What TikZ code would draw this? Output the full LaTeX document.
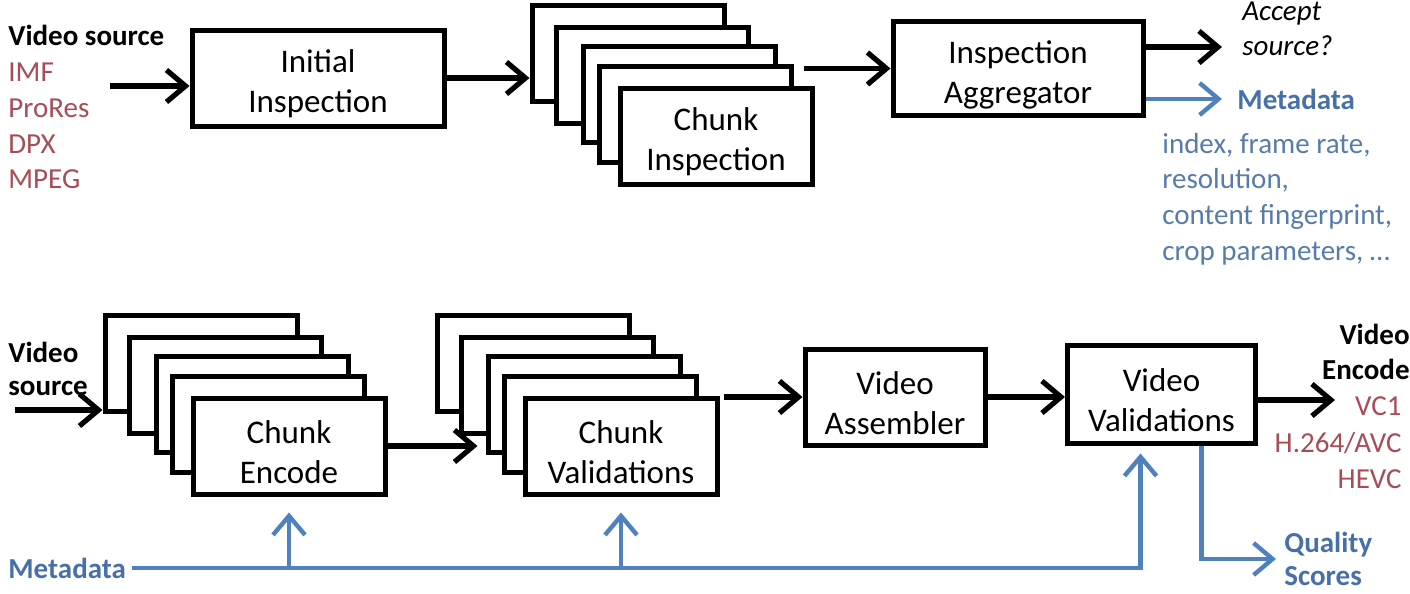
\documentclass[tikz,border=0pt]{standalone}
\usepackage{fontspec}
\setmainfont{Carlito}
\usetikzlibrary{arrows.meta}
\definecolor{fmtred}{RGB}{168,76,86}
\definecolor{metablue}{RGB}{79,129,189}
\definecolor{metatext}{RGB}{72,112,168}
\definecolor{listblue}{RGB}{88,124,170}

\begin{document}
\begin{tikzpicture}[x=0.5pt,y=-0.5pt,font=\fontsize{14.5}{17.8}\selectfont,
  box/.style={draw,line width=2.5pt,fill=white,align=center,
    font=\fontsize{16.5}{20}\selectfont,minimum height=48pt,text height=37.5pt},
  chunk/.style={box,minimum width=96pt},
  arr/.style={line width=2.6pt,-{Straight Barb[length=9.5pt,width=16pt]}},
  barr/.style={metablue,line width=2.2pt,-{Straight Barb[length=9.5pt,width=16pt]}},
  lbl/.style={inner sep=0pt,align=left}]
\useasboundingbox (0,0) rectangle (1410,594);
%
% Source formats
\node[lbl,anchor=west,font=\fontsize{14.5}{17.8}\selectfont\bfseries] (vsrc) at (8,35) {Video source};
\node[lbl,anchor=west,text=fmtred] (fmts) at (8,126) {IMF\\ProRes\\DPX\\MPEG};
\coordinate (vsrcin) at (110,86);
% Initial Inspection
\node[box,minimum width=126pt] (init) at (318,78) {Initial\\Inspection};
% Chunk Inspection
\node[chunk] (ci1) at (628,53) {};
\node[chunk] (ci2) at (652,75) {};
\node[chunk] (ci3) at (679,94) {};
\node[chunk] (ci4) at (695,114) {};
\node[chunk] (ci5) at (716,136) {Chunk\\Inspection};
% Inspection Aggregator
\node[box,minimum width=125pt,minimum height=47pt] (agg) at (1018,68.5) {Inspection\\Aggregator};
\node[lbl,anchor=west,font=\fontsize{14.5}{17.8}\selectfont\itshape] (acc) at (1242,29) {Accept\\source?};
\coordinate (acctip) at (1222,47);
\node[anchor=west,inner sep=0pt,inner xsep=7.5pt,text=metatext,font=\fontsize{14.5}{17.8}\selectfont\bfseries] (meta1) at (1222,99) {Metadata};
\node[lbl,anchor=west,text=listblue] (mlist) at (1162,199) {index, frame rate,\\resolution,\\content fingerprint,\\crop parameters, \dots};

% top row arrows
\draw[arr] (vsrcin) -- (vsrcin -| init.west);
\draw[arr] (init.east) -- (init.east -| ci1.west);
\draw[arr] ([xshift=5pt]ci4.east |- agg.west) -- (agg.west);
\draw[arr] (agg.east |- acctip) -- (acctip);
\draw[barr] (agg.east |- meta1.west) -- (meta1.west);

%
% Video source
\node[lbl,anchor=west,font=\fontsize{14.5}{16.5}\selectfont\bfseries] (vsrc2) at (8,369) {Video\\source};
\coordinate (vsrcin2) at (15,410);
% Chunk Encode
\node[chunk] (ce1) at (201,363) {};
\node[chunk] (ce2) at (225,385) {};
\node[chunk] (ce3) at (252,404) {};
\node[chunk] (ce4) at (268,424) {};
\node[chunk] (ce5) at (289,446) {Chunk\\Encode};
% Chunk Validations
\node[chunk] (cv1) at (533,363) {};
\node[chunk] (cv2) at (557,385) {};
\node[chunk] (cv3) at (584,404) {};
\node[chunk] (cv4) at (600,424) {};
\node[chunk] (cv5) at (621,446) {Chunk\\Validations};
% Video Assembler
\node[box,minimum width=90pt] (va) at (895,397) {Video\\Assembler};
% Video Validations
\node[box,minimum width=94pt,minimum height=49pt] (vv) at (1161.5,394) {Video\\Validations};
% Video Encode
\node[lbl,align=right,anchor=east,font=\fontsize{14.5}{17.5}\selectfont\bfseries] (venc) at (1410,352) {Video\\Encode};
\node[lbl,align=right,anchor=east,text=fmtred,font=\fontsize{14.5}{18.2}\selectfont] (codecs) at (1402,443) {VC1\\H.264/AVC\\HEVC};
\coordinate (outtip) at (1335,400);
% Metadata and quality
\node[anchor=west,inner sep=3pt,text=metatext,font=\fontsize{14.5}{17.8}\selectfont\bfseries] (meta2) at (2,568) {Metadata};
\node[lbl,anchor=west,inner xsep=4pt,text=metatext,font=\fontsize{14.5}{16.5}\selectfont\bfseries] (qs) at (1276,559) {Quality\\Scores};

% bottom row arrows
\draw[arr] (vsrcin2) -- (vsrcin2 -| ce1.west);
\draw[arr,shorten >=4pt] (ce5.east) -- (ce5.east -| cv3.west);
\draw[arr] ([xshift=2pt]cv5.east |- va.west) -- (va.west);
\draw[arr] (va.east) -- (va.east -| vv.west);
\draw[arr] (vv.east |- outtip) -- (outtip);
\draw[barr,shorten >=4pt] (meta2.east) -| ([xshift=-10.5pt]vv.south);
\draw[barr,shorten >=8pt] (meta2.east -| ce5.south) -- (ce5.south);
\draw[barr,shorten >=8pt] (meta2.east -| cv5.south) -- (cv5.south);
\draw[barr] ([xshift=20pt]vv.south) |- (qs.west);
\end{tikzpicture}
\end{document}
